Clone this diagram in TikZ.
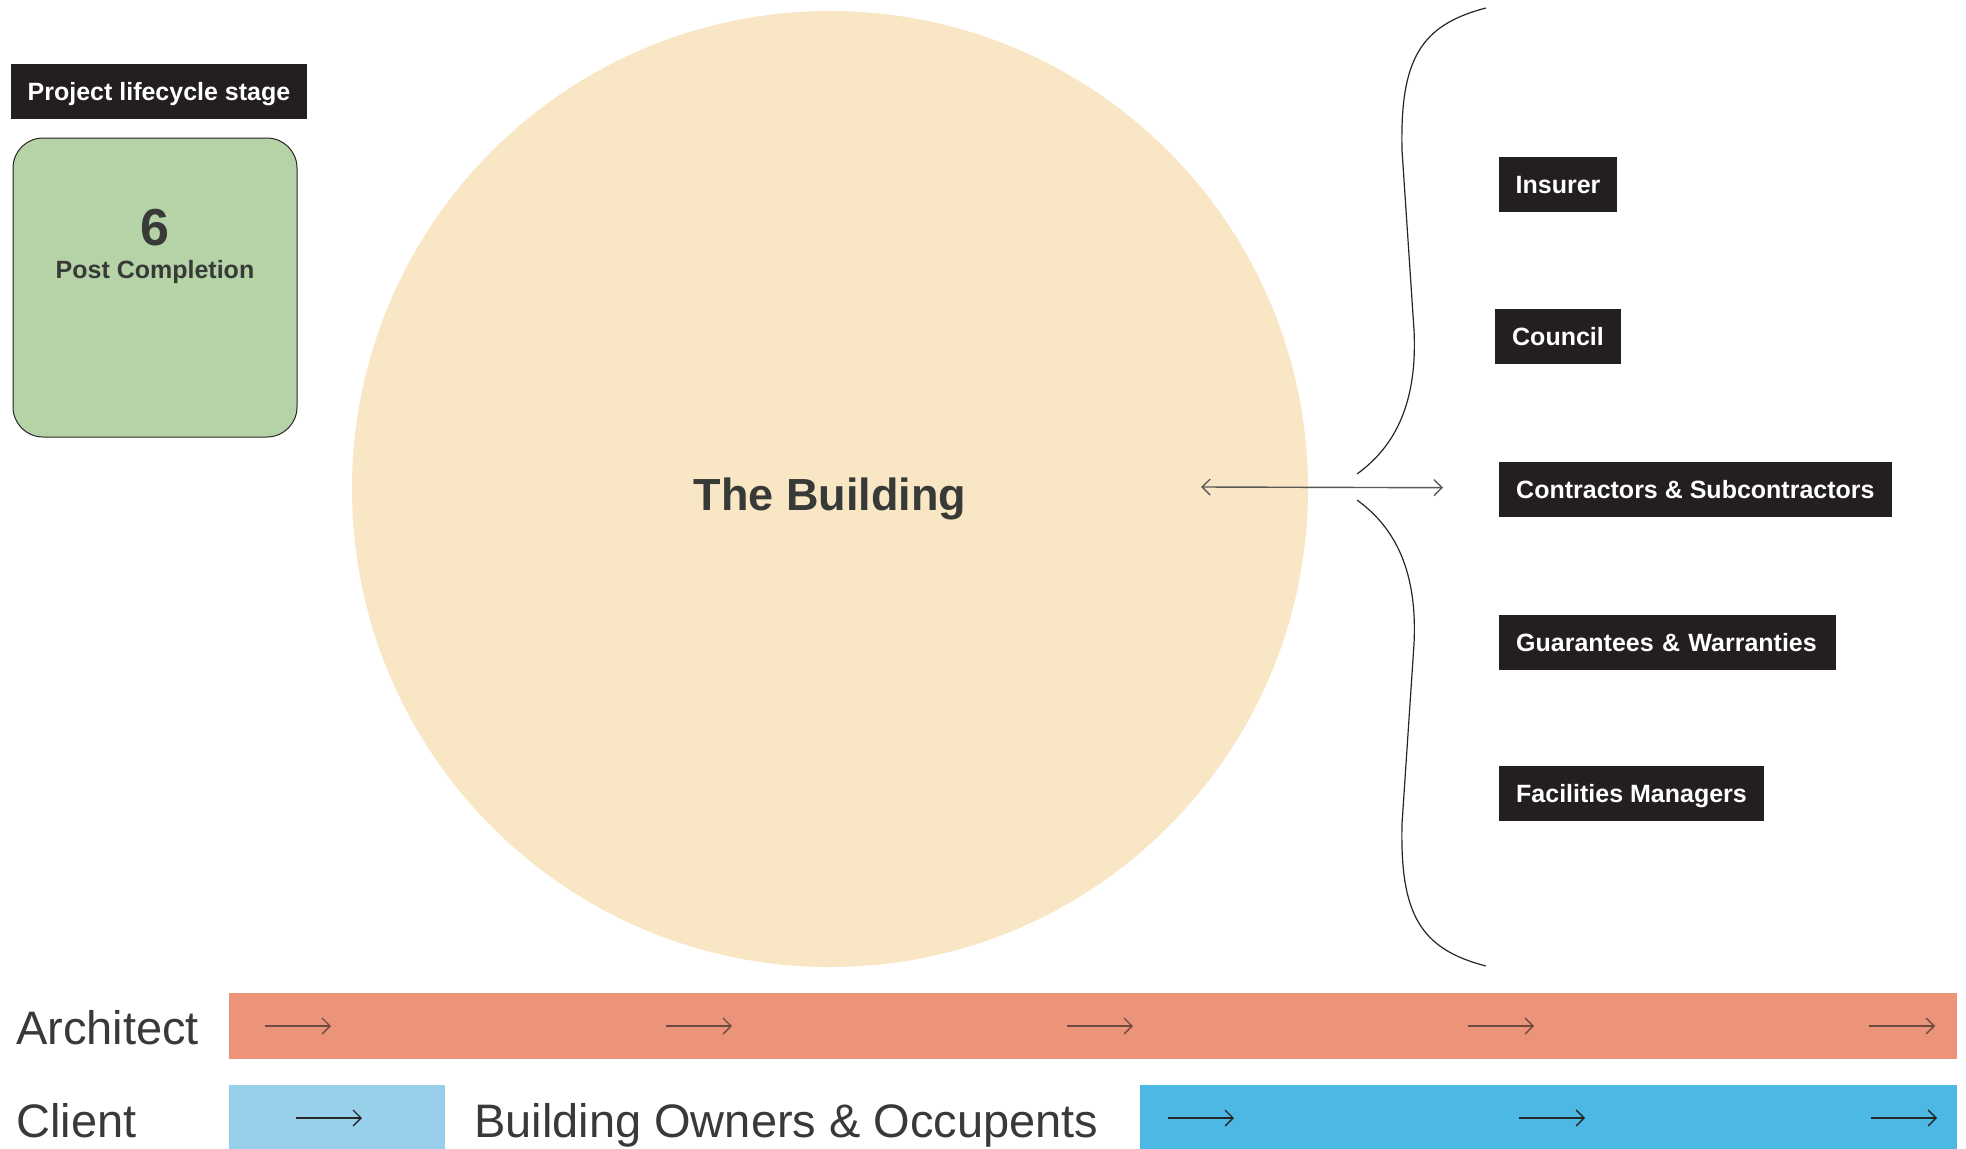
\documentclass[tikz,border=0pt]{standalone}
\usepackage{fontspec}
\setmainfont{Liberation Sans}
\usetikzlibrary{arrows.meta, positioning}

\definecolor{tagblack}{HTML}{231F20}
\definecolor{ink}{HTML}{373A36}
\definecolor{stagegreen}{HTML}{B5D3A7}
\definecolor{buildfill}{HTML}{F9E6C5}
\definecolor{archfill}{HTML}{EC9479}
\definecolor{archink}{HTML}{6E4A40}
\definecolor{clientlight}{HTML}{98D0EC}
\definecolor{clientdark}{HTML}{4BB9E4}

\begin{document}
\begin{tikzpicture}[x=1pt, y=-1pt,
    >={Straight Barb[length=8pt, width=16pt]},
    tag/.style={fill=tagblack, text=white, inner xsep=17pt, inner ysep=0pt,
                minimum height=55pt, text height=19pt, text depth=1pt,
                font=\bfseries\fontsize{25}{30}\selectfont},
    lane/.style={inner sep=0pt, outer sep=0pt},
    flow/.style={->, line width=1.3pt},
    role/.style={anchor=base west, inner sep=0pt, text=ink,
                 font=\fontsize{47}{56}\selectfont}]
    \useasboundingbox (0,0) rectangle (1966,1149);

    % stage card on the left
    \node[tag, minimum width=292pt] (stagehead) at (159,91.5) {Project lifecycle stage};
    \node[draw=black!85, line width=1pt, fill=stagegreen, rounded corners=30pt,
          minimum width=284pt, minimum height=299pt] (stage) at (155,287.5) {};
    \node[anchor=base, text=ink, font=\bfseries\fontsize{52}{60}\selectfont] (stagenum) at (155,245) {6};
    \node[anchor=base, text=ink, font=\bfseries\fontsize{25}{30}\selectfont] (stagename) at (155,278) {Post Completion};

    % the building itself
    \node[circle, fill=buildfill, minimum size=956pt, inner sep=0pt] (building) at (830,489) {};
    \node[anchor=base, text=ink, font=\bfseries\fontsize{45}{54}\selectfont] (bldname) at (830,510) {The Building};

    % parties around the building
    \node[tag] (insurer) at (1558,184) {Insurer};
    \node[tag, below=97pt of insurer] (council) {Council};
    \node[tag, anchor=north west] (contractors) at (1499,462) {Contractors \& Subcontractors};
    \node[tag, below=97pt of contractors.south west, anchor=north west,
          text width=303pt, align=left] (guarantees) {Guarantees \& Warranties};
    \node[tag, below=96pt of guarantees.south west, anchor=north west] (facilities) {Facilities Managers};

    % brace and link
    \draw[black!85, line width=1.2pt] (1486,8) .. controls (1420,25) and (1400,60) .. (1402,150)
        -- (1414,330) .. controls (1418,410) and (1390,450) .. (1357,474);
    \draw[black!85, line width=1.2pt] (1357,500) .. controls (1390,524) and (1418,564) .. (1414,644)
        -- (1402,824) .. controls (1400,914) and (1420,949) .. (1486,966);
    \draw[<->, black!65, line width=1.4pt] ([xshift=-107pt, yshift=2pt]building.east)
        -- ([xshift=-56pt, yshift=2pt]contractors.west);

    % architect lane
    \node[role] (architect) at (16,1044) {Architect};
    \node[lane, fill=archfill, minimum width=1728pt, minimum height=66pt] (archbar) at (1093,1026) {};
    \foreach \x in {265,666,1067,1468,1869}
        \draw[flow, archink] (\x,1026) -- ++(66,0);

    % client lane
    \node[role] (client) at (16,1137) {Client};
    \node[lane, fill=clientlight, minimum width=216pt, minimum height=64pt] (clientbar) at (337,1117) {};
    \node[role] (owners) at (474,1137) {Building Owners \& Occupents};
    \node[lane, fill=clientdark, minimum width=817pt, minimum height=64pt] (ownerbar) at (1548.5,1117) {};
    \foreach \x in {296,1168,1519,1871}
        \draw[flow, black!85] (\x,1118) -- ++(66,0);
\end{tikzpicture}
\end{document}
